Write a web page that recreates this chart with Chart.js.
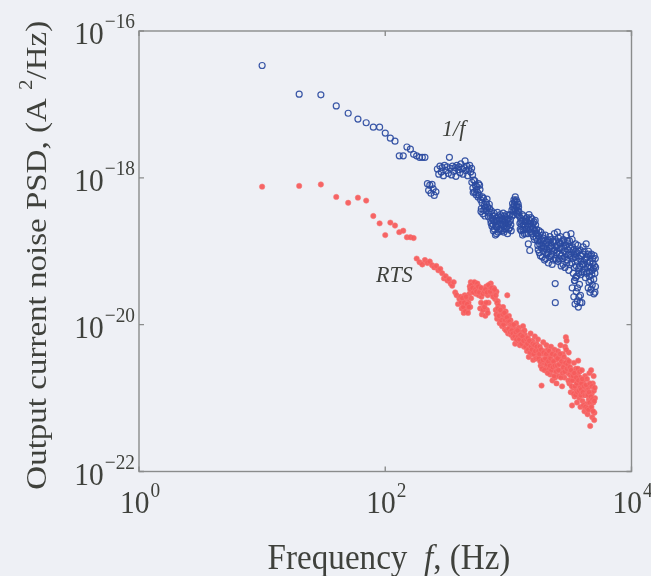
<!DOCTYPE html>
<html>
<head>
<meta charset="utf-8">
<title>Output current noise PSD</title>
<script src="https://cdn.jsdelivr.net/npm/chart.js@4/dist/chart.umd.min.js"></script>
<style>
  html, body { margin: 0; padding: 0; background: #eef0f5; }
  #wrap { width: 651px; height: 576px; }
</style>
</head>
<body>
<div id="wrap"><canvas id="psd" width="651" height="576"></canvas></div>
<script>
// tick exponents (decades) shown on each axis
const xTickExps = [0, 2, 4];
const yTickExps = [-16, -18, -20, -22];

// [frequency Hz, log10 PSD (A^2/Hz)]  -- 1/f noise
const bluePoints = [
  [10,-16.47],[20,-16.86],[30,-16.87],[40,-17.02],[50,-17.12],[60,-17.20],[70,-17.25],[80,-17.31],
  [90,-17.31],[100,-17.39],[110,-17.46],[120,-17.50],[130,-17.70],[140,-17.70],[150,-17.58],[160,-17.61],
  [170,-17.68],[180,-17.70],[190,-17.72],[200,-17.72],[210,-17.72],
  [220,-18.08],[225,-18.17],[230,-18.10],[235,-18.21],[240,-18.09],[245,-18.15],[250,-18.24],[258,-18.19],
  [265,-17.88],[272,-17.95],[278,-17.84],[285,-17.92],[290,-17.86],[297,-17.97],[303,-17.83],[310,-17.90],
  [318,-17.85],[325,-17.94],[332,-17.72],[338,-17.87],[345,-17.96],[352,-17.84],[360,-17.91],[368,-17.86],
  [375,-17.98],[382,-17.83],[390,-17.89],[398,-17.85],[405,-17.93],[412,-17.81],[420,-17.88],[428,-17.95],
  [436,-17.86],[445,-17.77],[452,-17.90],[460,-17.84],[468,-17.97],[476,-17.88],[485,-17.83],[494,-17.92],
  [503,-17.87],[512,-17.96],
  [505,-18.06],[515,-18.14],[522,-18.03],[530,-18.19],[538,-18.10],[546,-18.23],[555,-18.12],[563,-18.20],
  [572,-18.08],[580,-18.24],[588,-18.16],
  [518,-18.20],[534,-18.04],[550,-18.16],[567,-18.26],[584,-18.10],
  [595,-18.30],[603,-18.42],[611,-18.34],[620,-18.49],[628,-18.28],[636,-18.38],[645,-18.52],[653,-18.33],
  [662,-18.45],[671,-18.29],[680,-18.40],[690,-18.53],[700,-18.36],[710,-18.47],
  [599,-18.46],[616,-18.26],[632,-18.44],[649,-18.40],[666,-18.36],[685,-18.48],[705,-18.42],
  [720,-18.58],[728,-18.45],[736,-18.66],[745,-18.52],[755,-18.72],[765,-18.48],[775,-18.60],[785,-18.78],
  [795,-18.55],[805,-18.67],[815,-18.47],[826,-18.74],[837,-18.58],[848,-18.63],
  [724,-18.62],[740,-18.56],[750,-18.64],[760,-18.58],[770,-18.70],[780,-18.52],[790,-18.66],[800,-18.76],
  [810,-18.58],[820,-18.64],[832,-18.52],[842,-18.70],[854,-18.56],
  [860,-18.50],[872,-18.70],[884,-18.56],[896,-18.64],[908,-18.48],[920,-18.74],[932,-18.60],[945,-18.53],
  [958,-18.69],[971,-18.57],[985,-18.76],[998,-18.62],[1012,-18.51],[1026,-18.68],[1040,-18.58],[1054,-18.72],
  [866,-18.62],[878,-18.52],[890,-18.72],[902,-18.58],[914,-18.66],[926,-18.52],[938,-18.70],[951,-18.62],
  [964,-18.50],[978,-18.66],[991,-18.56],[1005,-18.70],[1019,-18.60],[1033,-18.50],[1047,-18.64],
  [1068,-18.44],[1082,-18.35],[1096,-18.50],[1110,-18.30],[1124,-18.42],[1138,-18.26],[1152,-18.38],[1166,-18.48],
  [1180,-18.33],[1195,-18.45],[1210,-18.40],[1225,-18.52],
  [1075,-18.52],[1089,-18.40],[1103,-18.46],[1117,-18.36],[1131,-18.32],[1145,-18.44],[1159,-18.30],[1173,-18.40],
  [1188,-18.50],[1202,-18.36],[1217,-18.46],
  [1240,-18.62],[1256,-18.55],[1272,-18.72],[1288,-18.58],[1305,-18.78],[1322,-18.64],[1340,-18.52],[1358,-18.70],
  [1376,-18.60],[1395,-18.76],[1414,-18.54],[1433,-18.66],[1452,-18.90],[1472,-18.50],[1492,-18.99],[1512,-18.62],
  [1532,-18.74],[1553,-18.56],[1574,-18.68],[1596,-18.80],[1618,-18.60],[1640,-18.72],[1663,-18.64],[1686,-18.82],
  [1248,-18.70],[1264,-18.60],[1280,-18.66],[1296,-18.50],[1314,-18.70],[1331,-18.58],[1349,-18.76],[1367,-18.66],
  [1385,-18.56],[1404,-18.70],[1423,-18.60],[1442,-18.76],[1462,-18.64],[1482,-18.58],[1502,-18.70],[1522,-18.54],
  [1542,-18.66],[1563,-18.76],[1585,-18.62],[1607,-18.70],[1629,-18.84],[1651,-18.58],[1674,-18.76],[1698,-18.70],
  [1710,-18.76],[1734,-18.92],[1758,-18.80],[1783,-19.02],[1808,-18.86],[1834,-18.74],[1860,-18.96],[1886,-19.08],
  [1913,-18.82],[1940,-18.94],[1968,-19.12],[1996,-18.78],[2024,-18.90],[2053,-19.04],[2082,-18.84],[2112,-19.16],
  [2142,-18.96],[2172,-18.80],[2203,-19.06],[2234,-18.92],[2266,-19.18],[2298,-18.86],[2331,-19.00],[2364,-18.76],
  [2398,-19.10],[2400,-19.44],[2405,-19.70],[2432,-18.94],[2466,-19.02],
  [1722,-18.86],[1746,-18.98],[1770,-18.72],[1795,-18.90],[1821,-19.06],[1847,-18.84],[1873,-18.92],[1899,-18.78],
  [1926,-19.00],[1954,-18.86],[1982,-18.96],[2010,-19.10],[2038,-18.98],[2067,-18.88],[2097,-19.02],[2127,-18.86],
  [2157,-19.08],[2187,-18.94],[2218,-18.84],[2250,-19.04],[2282,-18.96],[2314,-19.12],[2347,-18.88],[2381,-18.98],
  [2415,-18.86],[2449,-19.12],
  [2500,-18.74],[2536,-19.14],[2572,-18.88],[2609,-19.04],[2646,-18.80],[2684,-19.20],[2722,-18.96],[2761,-19.10],
  [2800,-18.84],[2840,-19.00],[2880,-19.22],[2921,-18.92],[2963,-18.78],[3005,-19.12],[3048,-18.98],[3092,-19.26],
  [3136,-18.86],[3180,-19.06],[3226,-18.76],[3272,-19.16],[3318,-18.94],[3366,-19.30],[3414,-19.04],[3462,-19.40],
  [3511,-18.90],[3561,-19.20],
  [2483,-18.92],[2518,-19.00],[2554,-18.82],[2590,-19.10],[2627,-18.96],[2665,-18.90],[2703,-19.06],[2741,-18.86],
  [2780,-19.18],[2820,-18.94],[2860,-19.08],[2900,-18.88],[2942,-19.04],[2984,-19.16],[3026,-18.86],[3070,-19.04],
  [3114,-18.94],[3158,-19.18],[3203,-18.96],[3249,-19.08],[3295,-18.84],[3342,-19.10],[3390,-18.98],[3438,-19.22],
  [3486,-19.08],[3536,-19.00],[3586,-19.34],
  [3300,-19.50],[3400,-19.62],[3480,-19.72],[3560,-19.55],[3620,-19.68],[3700,-19.76],[3780,-19.45],[3850,-19.60],
  [3950,-19.70],[3440,-19.40],[3520,-19.36],[3640,-19.50],[3740,-19.62],[3820,-19.70],
  [3612,-19.02],[3663,-18.92],[3716,-19.24],[3769,-19.10],[3823,-18.98],[3878,-19.32],[3933,-19.06],[3989,-19.18],
  [4046,-18.94],[4104,-19.28],[4163,-19.12],[4222,-19.36],[4283,-18.90],[4344,-19.08],[4406,-19.22],[4469,-19.00],
  [4533,-19.34],[4598,-19.14],[4664,-19.40],[4731,-19.04],[4799,-19.26],[4868,-19.16],[4937,-19.38],[5008,-19.20],
  [5080,-19.10],
  [3637,-19.14],[3689,-19.00],[3742,-19.30],[3796,-19.20],[3850,-19.06],[3905,-19.14],[3961,-19.28],[4017,-19.04],
  [4075,-19.18],[4133,-19.00],[4192,-19.24],[4252,-19.10],[4313,-19.30],[4375,-19.16],[4437,-19.04],[4501,-19.20],
  [4565,-19.28],[4631,-19.06],[4697,-19.22],[4765,-19.32],[4833,-19.10],[4902,-19.24],[4972,-19.06],[5044,-19.30],
  [5110,-19.22],
  [4450,-19.50],[4600,-19.56],[4800,-19.46],[4950,-19.58],[5100,-19.48],[4520,-19.42],[4700,-19.52],[5050,-19.56]
];

// [frequency Hz, log10 PSD (A^2/Hz)]  -- RTS noise
const redPoints = [
  [10,-18.12],[20,-18.11],[30,-18.09],[40,-18.26],[50,-18.34],[60,-18.27],[70,-18.31],[80,-18.52],
  [90,-18.62],[100,-18.78],[110,-18.61],[120,-18.65],[130,-18.74],[140,-18.72],[150,-18.81],[160,-18.81],
  [170,-18.82],[180,-19.10],[190,-19.15],[200,-19.18],[210,-19.12],[220,-19.16],[230,-19.14],[240,-19.19],
  [250,-19.22],[260,-19.20],[270,-19.26],[280,-19.24],[290,-19.30],[300,-19.37],[310,-19.34],[320,-19.40],
  [330,-19.38],[340,-19.44],[350,-19.47],[360,-19.42],[370,-19.56],[380,-19.60],[390,-19.72],[400,-19.65],
  [410,-19.62],[418,-19.78],[426,-19.68],[434,-19.84],[442,-19.60],[450,-19.74],[458,-19.66],[466,-19.80],
  [474,-19.70],[482,-19.58],[490,-19.76],[498,-19.64],
  [414,-19.70],[422,-19.64],[430,-19.76],[438,-19.70],[446,-19.82],[454,-19.62],[462,-19.72],[470,-19.84],
  [478,-19.76],
  [486,-19.48],[495,-19.42],[505,-19.55],[515,-19.45],[525,-19.50],[535,-19.44],[545,-19.58],[555,-19.47],
  [565,-19.53],[575,-19.60],[585,-19.49],[595,-19.56],[605,-19.62],[615,-19.52],
  [490,-19.52],[500,-19.46],[510,-19.50],[520,-19.56],[530,-19.42],[540,-19.52],[550,-19.55],[560,-19.44],
  [570,-19.48],[580,-19.56],[600,-19.50],[620,-19.58],
  [590,-19.78],[610,-19.86],[630,-19.72],[650,-19.88],[670,-19.80],[690,-19.70],
  [600,-19.70],[620,-19.80],[640,-19.76],[660,-19.70],[680,-19.84],
  [640,-19.55],[660,-19.48],[680,-19.60],[700,-19.52],[720,-19.44],[740,-19.58],[760,-19.50],[780,-19.65],
  [800,-19.55],[820,-19.68],
  [650,-19.52],[670,-19.56],[690,-19.46],[710,-19.55],[730,-19.50],[750,-19.62],[770,-19.52],[790,-19.60],
  [810,-19.70],
  [790,-19.80],[810,-19.92],[830,-19.74],[850,-19.98],[870,-19.84],[890,-20.02],
  [905,-19.76],[920,-19.90],[935,-20.06],[950,-19.82],[965,-19.98],[980,-19.60],[995,-20.12],[1010,-19.88],
  [1025,-20.04],[1040,-19.94],[1055,-20.14],
  [800,-19.86],[820,-19.78],[840,-19.88],[860,-19.80],[880,-19.94],[900,-19.86],[912,-20.00],[928,-19.84],
  [942,-19.94],[958,-20.08],[972,-19.90],[988,-19.96],[1002,-20.06],[1018,-19.96],[1032,-20.10],[1048,-20.00],
  [1075,-20.00],[1095,-20.18],[1115,-20.06],[1135,-20.26],[1155,-19.98],[1175,-20.12],[1195,-20.22],[1215,-20.04],
  [1240,-20.28],[1265,-20.10],[1290,-20.20],[1315,-20.02],[1340,-20.30],[1365,-20.14],[1390,-20.24],
  [1065,-20.08],[1085,-20.12],[1105,-20.00],[1125,-20.16],[1145,-20.10],[1165,-20.20],[1185,-20.08],[1205,-20.16],
  [1228,-20.20],[1252,-20.14],[1278,-20.26],[1302,-20.16],[1328,-20.22],[1352,-20.08],[1378,-20.30],[1402,-20.20],
  [1415,-20.36],[1440,-20.18],[1465,-20.44],[1490,-20.28],[1515,-20.12],[1540,-20.40],[1565,-20.22],[1590,-20.48],
  [1615,-20.32],[1640,-20.16],[1665,-20.42],[1690,-20.26],[1715,-20.38],[1740,-20.20],
  [1428,-20.26],[1452,-20.34],[1478,-20.22],[1502,-20.38],[1528,-20.30],[1552,-20.34],[1578,-20.26],[1602,-20.40],
  [1628,-20.28],[1652,-20.36],[1678,-20.46],[1702,-20.30],[1728,-20.46],[1752,-20.36],
  [1770,-20.46],[1800,-20.30],[1830,-20.56],[1860,-20.83],[1890,-20.40],[1920,-20.24],[1950,-20.52],[1980,-20.36],
  [2010,-20.58],[2040,-20.28],[2070,-20.46],[2100,-20.34],[2130,-20.60],[2160,-20.42],
  [2190,-20.68],[2220,-20.30],[2250,-20.52],[2280,-20.76],[2310,-20.40],[2340,-20.62],[2370,-20.34],[2400,-20.72],
  [2430,-20.48],[2460,-20.80],
  [1785,-20.40],[1815,-20.50],[1845,-20.34],[1875,-20.60],[1905,-20.48],[1935,-20.38],[1965,-20.62],[1995,-20.46],
  [2025,-20.40],[2055,-20.54],[2085,-20.66],[2115,-20.50],[2145,-20.36],[2175,-20.56],[2205,-20.46],[2235,-20.62],
  [2265,-20.40],[2295,-20.58],[2325,-20.50],[2355,-20.70],[2385,-20.56],[2415,-20.42],[2445,-20.64],
  [2490,-20.56],[2530,-20.36],[2570,-20.70],[2610,-20.46],[2650,-20.28],[2690,-20.62],[2730,-20.84],[2770,-20.40],
  [2810,-20.54],[2850,-20.72],[2890,-20.30],[2930,-20.17],[2970,-20.22],[3010,-20.48],[3050,-20.66],[3090,-20.38],
  [3130,-20.80],
  [2510,-20.46],[2550,-20.62],[2590,-20.54],[2630,-20.40],[2670,-20.72],[2710,-20.50],[2750,-20.66],[2790,-20.58],
  [2830,-20.44],[2870,-20.64],[2910,-20.52],[2950,-20.34],[2990,-20.60],[3030,-20.54],[3070,-20.76],[3110,-20.50],
  [3150,-20.68],
  [3170,-20.58],[3210,-20.92],[3250,-20.70],[3290,-21.10],[3330,-20.64],[3370,-20.86],[3410,-20.52],[3450,-20.98],
  [3490,-20.76],[3530,-20.60],[3570,-20.90],[3610,-21.06],[3650,-20.68],[3690,-20.49],[3730,-20.82],[3770,-21.00],
  [3810,-20.72],[3850,-21.12],
  [3190,-20.76],[3230,-20.62],[3270,-20.84],[3310,-20.76],[3350,-20.70],[3390,-20.94],[3430,-20.66],[3470,-20.84],
  [3510,-20.96],[3550,-20.72],[3590,-20.80],[3630,-20.92],[3670,-20.60],[3710,-20.76],[3750,-20.90],[3790,-20.64],
  [3830,-20.86],
  [3900,-20.88],[3950,-20.62],[4000,-21.04],[4050,-20.78],[4100,-20.96],[4150,-21.18],[4200,-20.70],[4250,-20.90],
  [4300,-21.08],[4350,-20.74],[4400,-21.22],[4450,-20.86],[4500,-21.02],[4550,-20.66],[4620,-21.38],[4650,-21.14],
  [4700,-20.62],[4750,-20.94],[4800,-21.26],[4850,-20.80],[4900,-21.06],[4950,-20.90],[5000,-21.20],[5050,-21.00],
  [3875,-20.96],[3925,-20.80],[3975,-20.74],[4025,-20.92],[4075,-21.10],[4125,-20.84],[4175,-20.96],[4225,-21.12],
  [4275,-20.82],[4325,-20.96],[4375,-21.14],[4425,-20.96],[4475,-21.16],[4525,-20.92],[4575,-21.06],[4600,-20.80],
  [4675,-20.98],[4725,-21.12],[4775,-20.84],[4825,-21.02],[4875,-21.18],[4925,-20.70],[4975,-21.04],[5025,-20.86],
  [4980,-21.30]
];

// in-plot labels: [text, frequency, log10 PSD of baseline]
const seriesLabels = [
  ['1/f', 289, -17.43],
  ['RTS', 84, -19.42]
];

const SERIF = '"Liberation Serif", "Times New Roman", serif';
const INK = '#3f413c';
const SQ = 0.92;   // horizontal text squeeze

const toXY = pts => pts.map(p => ({ x: p[0], y: Math.pow(10, p[1]) }));

function textW(ctx, str, font) {
  ctx.font = font;
  return ctx.measureText(str).width * SQ;
}

function drawText(ctx, str, x, y, font) {
  ctx.save();
  ctx.translate(x, y);
  ctx.scale(SQ, 1);
  ctx.font = font;
  ctx.textAlign = 'left';
  ctx.textBaseline = 'alphabetic';
  ctx.fillText(str, 0, 0);
  ctx.restore();
}

const BASE_FONT = '32px ' + SERIF;
const EXP_FONT  = '21px ' + SERIF;

// "10" with a raised exponent
function powerLabelWidth(ctx, exp) {
  const e = exp < 0 ? '\u2212' + (-exp) : String(exp);
  return textW(ctx, '10', BASE_FONT) + 1 + textW(ctx, e, EXP_FONT);
}
function drawPowerLabel(ctx, exp, x, baseline) {
  const e = exp < 0 ? '\u2212' + (-exp) : String(exp);
  drawText(ctx, '10', x, baseline, BASE_FONT);
  drawText(ctx, e, x + textW(ctx, '10', BASE_FONT) + 1, baseline - 16, EXP_FONT);
}

const framePlugin = {
  id: 'frame',
  beforeDraw(chart) {
    const ctx = chart.ctx;
    ctx.save();
    ctx.fillStyle = '#eef0f5';
    ctx.fillRect(0, 0, chart.width, chart.height);
    ctx.restore();
  },
  afterDraw(chart) {
    const ctx = chart.ctx;
    const a = chart.chartArea;
    const xs = chart.scales.x, ys = chart.scales.y;
    ctx.save();

    // box and inward ticks
    ctx.strokeStyle = '#8a8c8c';
    ctx.lineWidth = 1.4;
    ctx.strokeRect(a.left, a.top, a.right - a.left, a.bottom - a.top);
    ctx.beginPath();
    xTickExps.forEach(e => {
      const px = xs.getPixelForValue(Math.pow(10, e));
      ctx.moveTo(px, a.bottom); ctx.lineTo(px, a.bottom - 5);
      ctx.moveTo(px, a.top);    ctx.lineTo(px, a.top + 5);
    });
    yTickExps.forEach(e => {
      const py = ys.getPixelForValue(Math.pow(10, e));
      ctx.moveTo(a.left, py);  ctx.lineTo(a.left + 5, py);
      ctx.moveTo(a.right, py); ctx.lineTo(a.right - 5, py);
    });
    ctx.stroke();

    // tick labels
    ctx.fillStyle = INK;
    xTickExps.forEach(e => {
      const px = xs.getPixelForValue(Math.pow(10, e));
      const w = powerLabelWidth(ctx, e);
      drawPowerLabel(ctx, e, px - w / 2 + 1, a.bottom + 41);
    });
    yTickExps.forEach(e => {
      const py = ys.getPixelForValue(Math.pow(10, e));
      const w = powerLabelWidth(ctx, e);
      drawPowerLabel(ctx, e, a.left - 4 - w, py + 13);
    });

    // x axis title: Frequency f, (Hz)
    const xFont = '36px ' + SERIF, xiFont = 'italic 36px ' + SERIF;
    const parts = [['Frequency  ', xFont], ['f', xiFont], [', (Hz)', xFont]];
    let total = 0;
    parts.forEach(p => total += textW(ctx, p[0], p[1]));
    let cx = 389 - total / 2;
    parts.forEach(p => { drawText(ctx, p[0], cx, 569, p[1]); cx += textW(ctx, p[0], p[1]); });

    // y axis title, rotated
    const tFont = '33px ' + SERIF;
    ctx.save();
    ctx.translate(46, (a.top + a.bottom) / 2 + 4);
    ctx.rotate(-Math.PI / 2);
    ctx.scale(1, SQ);
    ctx.font = tFont;
    const yParts = ['Output current noise PSD, (A ', '2', '/Hz)'];
    const w0 = ctx.measureText(yParts[0]).width;
    ctx.font = '21px ' + SERIF;
    const w1 = ctx.measureText(yParts[1]).width;
    ctx.font = tFont;
    const w2 = ctx.measureText(yParts[2]).width;
    let sx = -(w0 + w1 + w2) / 2;
    ctx.textBaseline = 'alphabetic';
    ctx.fillText(yParts[0], sx, 0); sx += w0;
    ctx.font = '21px ' + SERIF;
    ctx.fillText(yParts[1], sx, -15); sx += w1;
    ctx.font = tFont;
    ctx.fillText(yParts[2], sx, 0);
    ctx.restore();

    // series labels inside the plot
    seriesLabels.forEach(l => {
      const px = xs.getPixelForValue(l[1]);
      const py = ys.getPixelForValue(Math.pow(10, l[2]));
      drawText(ctx, l[0], px, py, 'italic 24px ' + SERIF);
    });

    ctx.restore();
  }
};

new Chart(document.getElementById('psd'), {
  type: 'scatter',
  data: {
    datasets: [
      {
        label: '1/f',
        data: toXY(bluePoints),
        pointStyle: 'circle',
        pointRadius: 3,
        pointBorderWidth: 1.2,
        pointBackgroundColor: 'rgba(0,0,0,0)',
        pointBorderColor: 'rgba(42,74,160,0.92)'
      },
      {
        label: 'RTS',
        data: toXY(redPoints),
        pointStyle: 'circle',
        pointRadius: 2.7,
        pointBorderWidth: 0.6,
        pointBackgroundColor: 'rgba(245,92,92,0.95)',
        pointBorderColor: 'rgba(248,120,120,0.9)'
      }
    ]
  },
  options: {
    responsive: false,
    animation: false,
    events: [],
    layout: { padding: { left: 139, right: 19.5, top: 31, bottom: 104.5 } },
    plugins: { legend: { display: false }, tooltip: { enabled: false } },
    scales: {
      x: { type: 'logarithmic', min: 1, max: 1e4, display: false },
      y: { type: 'logarithmic', min: 1e-22, max: 1e-16, display: false }
    }
  },
  plugins: [framePlugin]
});
</script>
</body>
</html>
